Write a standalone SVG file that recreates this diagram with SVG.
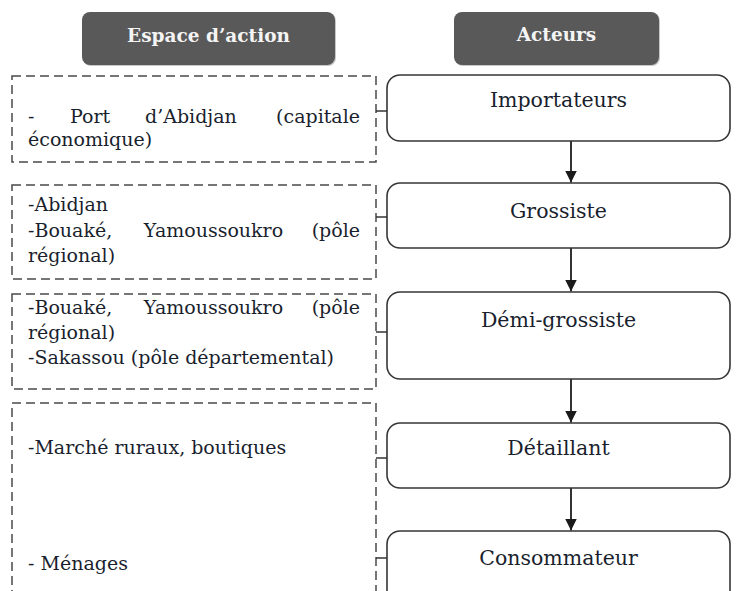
<svg xmlns="http://www.w3.org/2000/svg" width="745" height="591" viewBox="0 0 745 591">
  <style>
    .hdr { fill: #595959; }
    .hdrsh { fill: #c8c8c8; }
    .hdrtxt { font-family: "DejaVu Serif", "Liberation Serif", serif; font-weight: bold; font-size: 18.5px; fill: #f4f4f4; text-anchor: middle; }
    .zone { fill: none; stroke: #4a4a4a; stroke-width: 1.5; stroke-dasharray: 9 5; }
    .actor { fill: #ffffff; stroke: #363636; stroke-width: 1.6; }
    .ltxt { font-family: "DejaVu Serif", "Liberation Serif", serif; font-size: 19px; fill: #1a1f2e; }
    .rtxt { font-family: "DejaVu Serif", "Liberation Serif", serif; font-size: 20.5px; fill: #1a1f2e; text-anchor: middle; }
    .flow { stroke: #333333; stroke-width: 2; fill: none; }
    .tick { stroke: #333333; stroke-width: 1.5; fill: none; }
  </style>
  <defs>
    <marker id="ah" viewBox="0 0 10 10" refX="10" refY="5" markerWidth="12" markerHeight="12" markerUnits="userSpaceOnUse" orient="auto">
      <path d="M0,0 L10,5 L0,10 z" fill="#1a1a1a"/>
    </marker>
  </defs>
  <rect width="745" height="591" fill="#ffffff"/>

  <g id="header-espace">
    <rect class="hdrsh" x="83" y="13" width="253" height="53" rx="8"/>
    <rect class="hdr" x="82" y="12" width="253" height="53" rx="8"/>
    <text class="hdrtxt" x="208.5" y="42">Espace d’action</text>
  </g>
  <g id="header-acteurs">
    <rect class="hdrsh" x="455" y="13" width="205" height="53" rx="8"/>
    <rect class="hdr" x="454" y="12" width="205" height="53" rx="8"/>
    <text class="hdrtxt" x="556.5" y="41">Acteurs</text>
  </g>

  <g id="zone-port">
    <rect class="zone" x="12" y="76" width="364" height="86"/>
    <text class="ltxt" y="123"><tspan x="28">-</tspan><tspan x="70">Port</tspan><tspan x="145">d’Abidjan</tspan><tspan x="360" text-anchor="end">(capitale</tspan></text>
    <text class="ltxt" x="28" y="146">économique)</text>
  </g>
  <g id="zone-abidjan">
    <rect class="zone" x="12" y="185" width="364" height="94"/>
    <text class="ltxt" x="28" y="211">-Abidjan</text>
    <text class="ltxt" y="237"><tspan x="28">-Bouaké,</tspan><tspan x="213.5" text-anchor="middle">Yamoussoukro</tspan><tspan x="360" text-anchor="end">(pôle</tspan></text>
    <text class="ltxt" x="28" y="262">régional)</text>
  </g>
  <g id="zone-bouake">
    <rect class="zone" x="12" y="294" width="364" height="95"/>
    <text class="ltxt" y="314"><tspan x="28">-Bouaké,</tspan><tspan x="213.5" text-anchor="middle">Yamoussoukro</tspan><tspan x="360" text-anchor="end">(pôle</tspan></text>
    <text class="ltxt" x="28" y="339">régional)</text>
    <text class="ltxt" x="28" y="364">-Sakassou (pôle départemental)</text>
  </g>
  <g id="zone-marches">
    <rect class="zone" x="12" y="403" width="364" height="210"/>
    <text class="ltxt" x="28" y="454">-Marché ruraux, boutiques</text>
    <text class="ltxt" x="28" y="570">- Ménages</text>
  </g>

  <g id="importateurs">
    <rect class="actor" x="387" y="75" width="343" height="66" rx="13"/>
    <text class="rtxt" x="558.5" y="107">Importateurs</text>
  </g>
  <g id="grossiste">
    <rect class="actor" x="387" y="183" width="343" height="65" rx="13"/>
    <text class="rtxt" x="558.5" y="218">Grossiste</text>
  </g>
  <g id="demi-grossiste">
    <rect class="actor" x="387" y="292" width="343" height="87" rx="13"/>
    <text class="rtxt" x="558.5" y="327">Démi-grossiste</text>
  </g>
  <g id="detaillant">
    <rect class="actor" x="387" y="423" width="343" height="65" rx="13"/>
    <text class="rtxt" x="558.5" y="455">Détaillant</text>
  </g>
  <g id="consommateur">
    <rect class="actor" x="387" y="531" width="343" height="80" rx="13"/>
    <text class="rtxt" x="558.5" y="565">Consommateur</text>
  </g>

  <g id="connectors">
    <line class="flow" x1="571" y1="141" x2="571" y2="182.5" marker-end="url(#ah)"/>
    <line class="flow" x1="571" y1="248" x2="571" y2="291.5" marker-end="url(#ah)"/>
    <line class="flow" x1="571" y1="379" x2="571" y2="422.5" marker-end="url(#ah)"/>
    <line class="flow" x1="571" y1="488" x2="571" y2="530.5" marker-end="url(#ah)"/>
    <line class="tick" x1="376" y1="111" x2="387" y2="111"/>
    <line class="tick" x1="376" y1="217" x2="387" y2="217"/>
    <line class="tick" x1="376" y1="332" x2="387" y2="332"/>
    <line class="tick" x1="376" y1="458" x2="387" y2="458"/>
    <line class="tick" x1="376" y1="558" x2="387" y2="558"/>
  </g>
</svg>
